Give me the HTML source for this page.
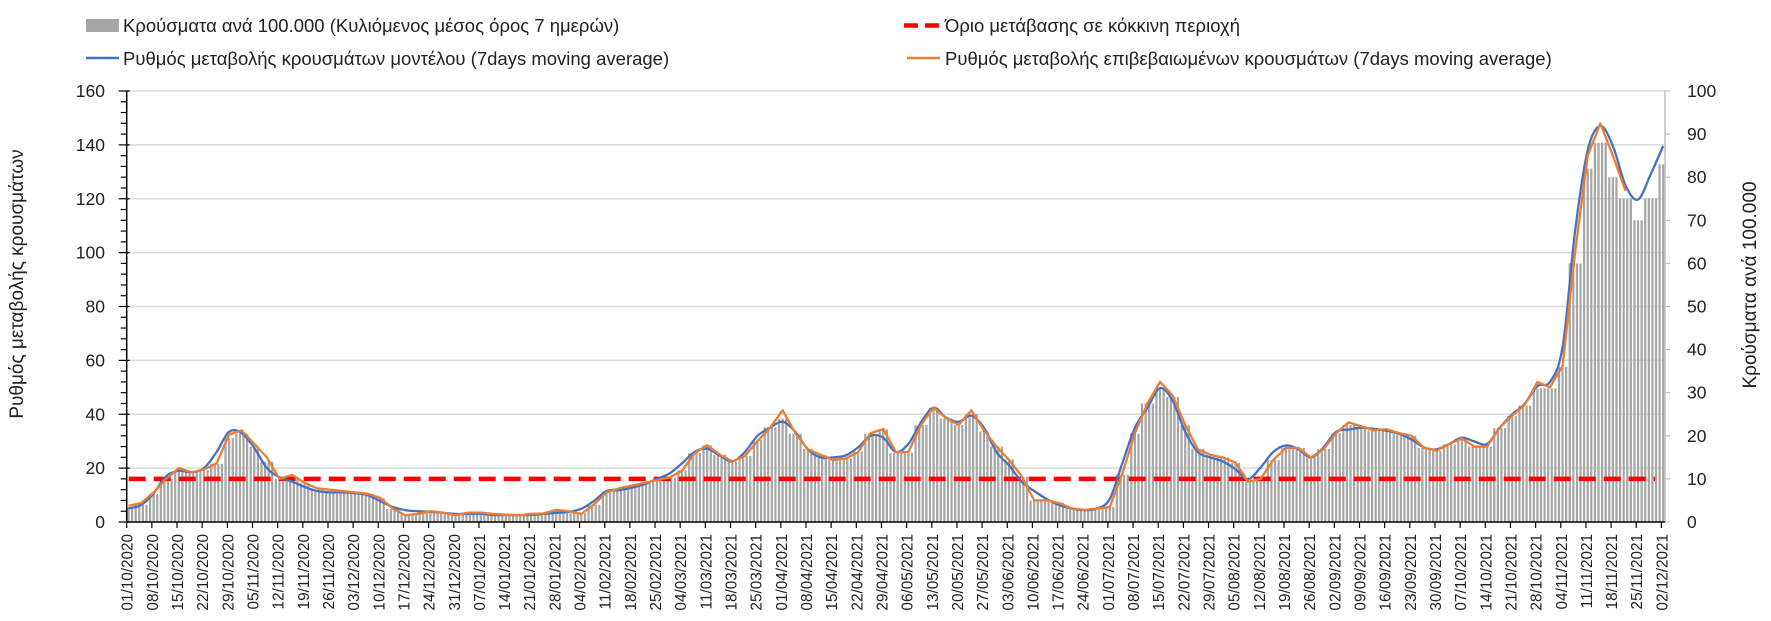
<!DOCTYPE html>
<html><head><meta charset="utf-8">
<style>
html,body{margin:0;padding:0;background:#fff;}
svg{display:block;font-family:"Liberation Sans",Arial,sans-serif;}
</style></head>
<body>
<svg id="chart" width="1771" height="621" viewBox="0 0 1771 621" xmlns="http://www.w3.org/2000/svg">
  <rect x="0" y="0" width="1771" height="621" fill="#fff"/>
  <g>
    <g>
      <rect x="86" y="19" width="33" height="13" fill="#a5a5a5"/>
      <text x="123" y="32" font-size="18.5" fill="#222">Κρούσματα ανά 100.000 (Κυλιόμενος μέσος όρος 7 ημερών)</text>
    </g>
    <g>
      <line x1="904" y1="25.5" x2="941" y2="25.5" stroke="#ff0000" stroke-width="4.5" stroke-dasharray="14 7"/>
      <text x="945" y="32" font-size="18.5" fill="#222">Όριο μετάβασης σε κόκκινη περιοχή</text>
    </g>
    <g>
      <line x1="86" y1="58" x2="119" y2="58" stroke="#4472c4" stroke-width="2.5"/>
      <text x="123" y="65" font-size="18.5" fill="#222">Ρυθμός μεταβολής κρουσμάτων μοντέλου (7days moving average)</text>
    </g>
    <g>
      <line x1="907" y1="58" x2="940" y2="58" stroke="#ed7d31" stroke-width="2.5"/>
      <text x="945" y="65" font-size="18.5" fill="#222">Ρυθμός μεταβολής επιβεβαιωμένων κρουσμάτων (7days moving average)</text>
    </g>
  </g>
  <text transform="translate(23,284) rotate(-90)" text-anchor="middle" font-size="19" fill="#222">Ρυθμός μεταβολής κρουσμάτων</text>
  <text transform="translate(1756,285) rotate(-90)" text-anchor="middle" font-size="19" fill="#222">Κρούσματα ανά 100.000</text>
  <g id="grid"></g>
  <g id="bars"></g>
  <g id="lines"></g>
  <g id="axes"></g>
</svg>
<script>
// ---- data (values every 3.5 days starting 01/10/2020) ----
const stepDays = 3.5;
const totalDays = 428;
const startDate = [2020, 9, 1];
const leftTicks = [0,20,40,60,80,100,120,140,160];
const rightTicks = [0,10,20,30,40,50,60,70,80,90,100];
const thresholdValue = 16;
const modelRate = [
5,6.3,10.7,17,19,18.5,20,26,33.5,33,
27.5,20,16.6,15,13,11.5,11,11,10.7,10,
7.8,5.6,4.4,4,3.8,3.4,3,3,3,2.6,
2.6,2.6,2.6,3,3.4,3.8,4.9,7.8,11.5,11.8,
12.7,14,16,18,21.8,26,27.2,24.7,22.5,26,
32,35,37.2,33.5,27,24,24,24.7,27.7,32,
31.3,26,29,37,42.4,38.7,37.2,39.5,35,26,
21,15,11.5,8.5,6.3,5,4.4,5,8.5,21.8,
35,42.4,49.7,45,33.5,26,24,22.5,19.6,15.9,
20.3,26,28.4,27,24,27.7,33.5,34.3,35,34.6,
33.9,32.8,30.6,27.7,27,29,31.3,29.9,29,35,
40,43.9,50.5,52,65,108,138,147,139.6,125,
119.7,129,139.6];
const confirmedRate = [
6,7,11,16,20,18.5,19.5,21.8,32.5,34,
29,24,16,17.5,14.5,12.5,12,11.5,11,10.5,
9,5,2.5,3,4,3.5,2.5,3.5,3.5,3,
2.7,2.5,3,3.2,4.5,4,3,6.5,11,12.5,
13.5,14.5,15.5,16.5,19,25.5,28.5,25,22.5,24.5,
30,35,41.5,33,27,25,23,23.5,26,33,
34.5,26,26,36,42.5,38.5,36,41.5,34,28,
23,17,8,8,7,5,4.5,5,5.5,18,
33,44,52,47,36,27,25,24,22,15,
16,23,27.5,27.5,24,27,33,37,35.5,34,
34.5,33,32,27.5,26.5,29,31,28,28,35,
39.5,43.5,52,50,58,100,136,148,136,123,
null,null,null];
const casesPer100k = [
3.5,4,6.5,10,12,11.5,12,13.5,19.5,20.5,
17.5,14,10,10.5,9,7.5,7,7,7,6.5,
5.5,3,1.8,2,2.5,2.2,1.7,2.2,2.2,1.8,
1.7,1.6,1.9,2,2.8,2.5,2,4,7,7.8,
8.4,9,9.7,10.3,12,16,17.8,15.6,14,15.3,
19,22,24,20.5,17,15.5,14.4,14.7,16.3,20.5,
21.5,16,16,22.5,26.5,24,22.5,25,21,17.5,
14.5,10.5,5,5,4.4,3.1,2.8,3.1,3.5,11,
20.5,27.5,31,29,22.5,17,15.6,15,13.7,9.4,
10,14.4,17.2,17.2,15,16.9,20.6,22.5,22,21.2,
21.5,20.6,20,17.2,16.5,18,19.4,17.5,17.5,21.8,
24.6,27,31,31,36,60,82,88,80,75,
70,75,83];

// ---- layout ----
const NS = "http://www.w3.org/2000/svg";
const X0 = 126.7, X1 = 1665, Y0 = 522, YT = 91;
const dayW = (X1 - X0) / totalDays;
const xDay = d => X0 + (d + 0.5) * dayW;
const xTick = d => X0 + d * dayW;
const yLeft = v => Y0 - (v / 160) * (Y0 - YT);
const yRight = v => Y0 - (v / 100) * (Y0 - YT);
function mk(tag, attrs, parent){ const e=document.createElementNS(NS,tag); for(const k in attrs) e.setAttribute(k,attrs[k]); parent.appendChild(e); return e; }

const grid = document.getElementById('grid');
const bars = document.getElementById('bars');
const lines = document.getElementById('lines');
const axes = document.getElementById('axes');

leftTicks.forEach(v => {
  if (v === 0) return;
  const g = mk('line',{x1:X0,x2:X1,y1:yLeft(v),y2:yLeft(v),stroke:'#d9d9d9','stroke-width':1.5},grid);
  
  
});

for (let d = 0; d < totalDays; d++) {
  const v = casesPer100k[Math.min(casesPer100k.length-1, Math.round(d / stepDays))];
  const y = yRight(v);
  const b = mk('rect',{x:xDay(d)-1.1,y:y,width:2.2,height:Y0-y,fill:'#a5a5a5'},bars);
  
  
}

const th = mk('line',{x1:X0+2,x2:X1-10,y1:yLeft(thresholdValue),y2:yLeft(thresholdValue),stroke:'#ff0000','stroke-width':4.5,'stroke-dasharray':'17 8'},lines);



function drawLine(arr, color, name, smooth){
  const pts = [];
  arr.forEach((v,i) => { if (v !== null) pts.push([xDay(i*stepDays), yLeft(v)]); });
  let d = 'M' + pts[0][0].toFixed(1) + ' ' + pts[0][1].toFixed(1);
  for (let i = 1; i < pts.length; i++) {
    if (smooth) {
      const p0 = pts[Math.max(0,i-2)], p1 = pts[i-1], p2 = pts[i], p3 = pts[Math.min(pts.length-1,i+1)];
      const c1x = p1[0] + (p2[0]-p0[0])/6, c1y = p1[1] + (p2[1]-p0[1])/6;
      const c2x = p2[0] - (p3[0]-p1[0])/6, c2y = p2[1] - (p3[1]-p1[1])/6;
      d += ' C' + c1x.toFixed(1)+' '+c1y.toFixed(1)+' '+c2x.toFixed(1)+' '+c2y.toFixed(1)+' '+p2[0].toFixed(1)+' '+p2[1].toFixed(1);
    } else {
      d += ' L' + pts[i][0].toFixed(1) + ' ' + pts[i][1].toFixed(1);
    }
  }
  const p = mk('path',{d:d,fill:'none',stroke:color,'stroke-width':2.3,'stroke-linejoin':'round'},lines);
  
  
}
drawLine(modelRate,'#4472c4','model-rate-line',true);
drawLine(confirmedRate,'#ed7d31','confirmed-rate-line',false);

const la = mk('line',{x1:X0,x2:X0,y1:YT,y2:Y0,stroke:'#000','stroke-width':1.5},axes);


for (let v = 0; v <= 160; v += 4) {
  const major = v % 20 === 0;
  mk('line',{x1:major?X0-8:X0-6,x2:major?X0+3:X0,y1:yLeft(v),y2:yLeft(v),stroke:'#000','stroke-width':1.2},axes);
}
leftTicks.forEach(v => {
  const t = mk('text',{x:105,y:yLeft(v)+6,'text-anchor':'end','font-size':17.5,fill:'#222'},axes);
  t.textContent = v;
  
  
});

const ra = mk('line',{x1:X1,x2:X1,y1:YT,y2:Y0,stroke:'#bfbfbf','stroke-width':1.5},axes);


rightTicks.forEach(v => {
  mk('line',{x1:X1,x2:X1+5,y1:yRight(v),y2:yRight(v),stroke:'#bfbfbf','stroke-width':1.2},axes);
  const t = mk('text',{x:1687,y:yRight(v)+6,'font-size':17.5,fill:'#222'},axes);
  t.textContent = v;
  
  
});

const xa = mk('line',{x1:X0,x2:X1,y1:Y0,y2:Y0,stroke:'#000','stroke-width':1.5},axes);


const pad = n => (n<10?'0':'')+n;
for (let d = 0; d < totalDays; d += 7) {
  const x = xTick(d);
  mk('line',{x1:x,x2:x,y1:Y0,y2:Y0+6,stroke:'#000','stroke-width':1.2},axes);
  const dt = new Date(startDate[0], startDate[1], startDate[2] + d);
  const lbl = pad(dt.getDate())+'/'+pad(dt.getMonth()+1)+'/'+dt.getFullYear();
  const t = mk('text',{transform:'translate('+(x+1.5).toFixed(1)+',534) rotate(-90)','text-anchor':'end','dominant-baseline':'central','font-size':15.3,fill:'#222'},axes);
  t.textContent = lbl;
  
  
}
</script>
</body></html>
